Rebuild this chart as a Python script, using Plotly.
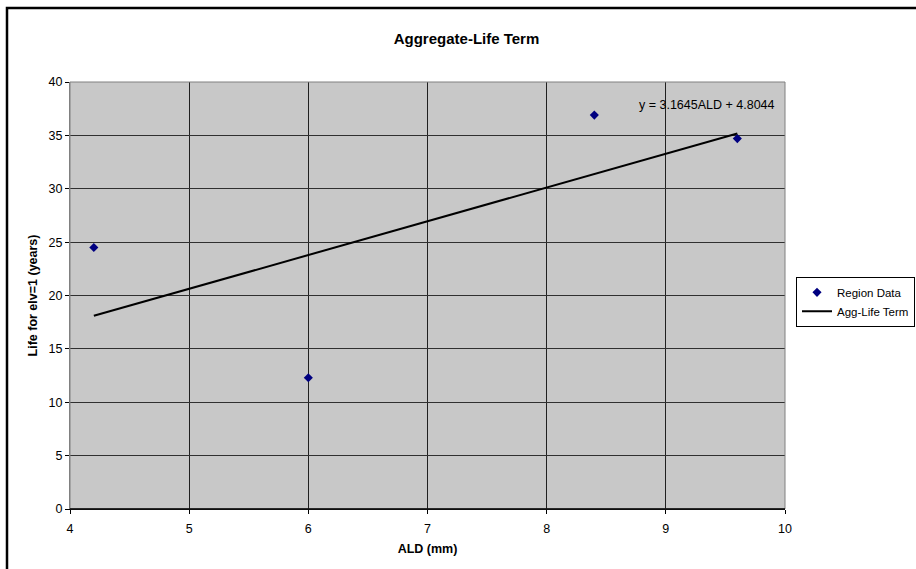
import plotly.graph_objects as go

# Data
ald = [4.2, 6.0, 8.4, 9.6]
life = [24.5, 12.3, 36.9, 34.7]
slope = 3.1645
intercept = 4.8044
trend_x = [4.2, 9.6]
trend_y = [slope * v + intercept for v in trend_x]
x_ticks = [4, 5, 6, 7, 8, 9, 10]
y_ticks = [0, 5, 10, 15, 20, 25, 30, 35, 40]

FONT = "Liberation Sans, Arial, sans-serif"
FS = 12.5

fig = go.Figure()
fig.add_trace(go.Scatter(
    x=ald, y=life, mode="markers", name="Region Data",
    marker=dict(symbol="diamond", size=7, color="#000080"),
))
fig.add_trace(go.Scatter(
    x=trend_x, y=trend_y, mode="lines", name="Agg-Life Term",
    line=dict(color="black", width=2),
))

fig.update_layout(
    width=916, height=569,
    margin=dict(l=70, r=131, t=82, b=60, autoexpand=False),
    paper_bgcolor="white",
    plot_bgcolor="#C8C8C8",
    font=dict(family=FONT, size=FS, color="black"),
    title=dict(text="<b>Aggregate-Life Term</b>", x=466.5 / 916, xanchor="center",
               y=1 - 39 / 569, yanchor="middle",
               font=dict(family=FONT, size=15, color="black")),
    showlegend=True,
    legend=dict(x=(796 - 70) / 715, y=(509.3 - 277) / 427.3, xanchor="left", yanchor="top",
                bgcolor="white", bordercolor="black", borderwidth=1,
                font=dict(family=FONT, size=11.5), tracegroupgap=0,
                itemwidth=30),
    xaxis=dict(range=[4, 10], tickvals=x_ticks, showgrid=True,
               gridcolor="#202020", gridwidth=1, zeroline=False,
               showline=True, linecolor="black", linewidth=1,
               ticks="outside", ticklen=4, tickcolor="black",
               ticklabelstandoff=4,
               title=dict(text="<b>ALD (mm)</b>", standoff=9,
                          font=dict(family=FONT, size=FS))),
    yaxis=dict(range=[0, 40], tickvals=y_ticks, showgrid=True,
               gridcolor="#303030", gridwidth=1, zeroline=False,
               showline=True, linecolor="#808080", linewidth=1,
               ticks="outside", ticklen=4, tickcolor="black",
               title=dict(text="<b>Life for elv=1 (years)</b>", standoff=8,
                          font=dict(family=FONT, size=FS))),
    shapes=[
        dict(type="rect", xref="paper", yref="paper", x0=0, x1=1, y0=0, y1=1,
             line=dict(color="#808080", width=1), layer="above"),
        dict(type="line", xref="paper", yref="paper", x0=0, x1=1, y0=0, y1=0,
             line=dict(color="black", width=1.5), layer="above"),
        dict(type="rect", xref="paper", yref="paper",
             x0=(7 - 70) / 715, x1=(930 - 70) / 715,
             y0=(509.3 - 580) / 427.3, y1=(509.3 - 8) / 427.3,
             line=dict(color="black", width=2.5), layer="above"),
    ],
    annotations=[
        dict(text="y = 3.1645ALD + 4.8044", xref="paper", yref="paper",
             x=(777 - 70) / 715, y=(509.3 - 105) / 427.3,
             xanchor="right", yanchor="middle", showarrow=False,
             font=dict(family=FONT, size=FS, color="black")),
    ],
)

fig.write_html("out.html")
